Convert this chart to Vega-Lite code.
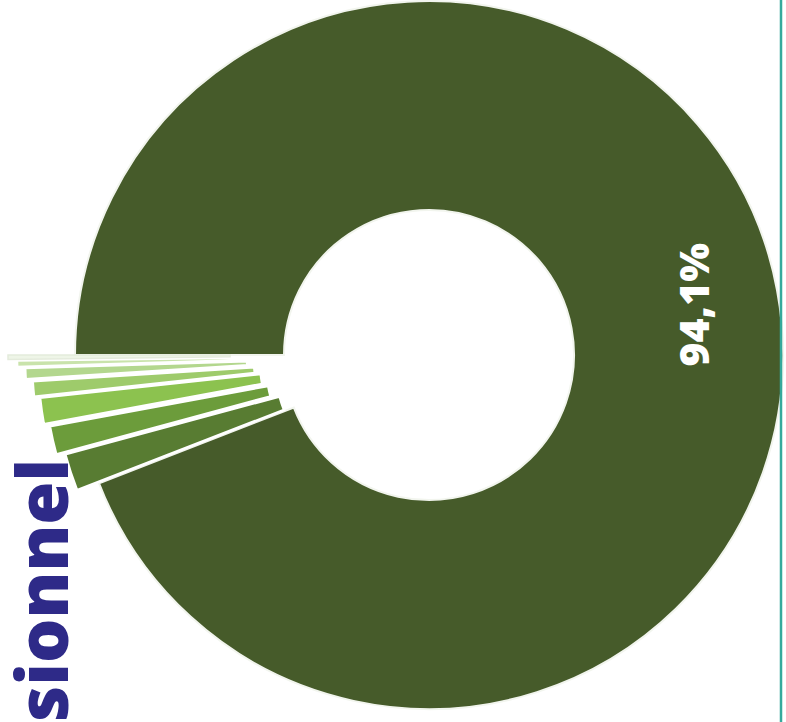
{
  "$schema": "https://vega.github.io/schema/vega-lite/v6.json",
  "width": 710,
  "height": 710,
  "padding": {"left": 74, "top": 0, "right": 2, "bottom": 12},
  "autosize": {"type": "none"},
  "background": "white",
  "config": {"view": {"stroke": null}},
  "title": {"text": "sionnel", "orient": "left", "anchor": "start", "frame": "group", "font": "Open Sans", "fontWeight": 800, "fontSize": 70, "color": "#2e2a88", "baseline": "alphabetic", "offset": -133, "dx": -12},
  "data": {"values": [
    {"cat": "C1", "value": 94.1, "label": "94,1%"},
    {"cat": "C2", "value": 1.7, "label": ""},
    {"cat": "C3", "value": 1.3, "label": ""},
    {"cat": "C4", "value": 1.2, "label": ""},
    {"cat": "C5", "value": 0.7, "label": ""},
    {"cat": "C6", "value": 0.5, "label": ""},
    {"cat": "C7", "value": 0.3, "label": ""},
    {"cat": "C8", "value": 0.2, "label": ""}
  ]},
  "transform": [{"stack": "value", "groupby": [], "as": ["v0", "v1"]}],
  "layer": [
    {
      "transform": [{"filter": "datum.cat == 'C1'"}],
      "mark": {"type": "arc", "innerRadius": 145, "outerRadius": 354, "stroke": "#f2f5ee", "strokeWidth": 2},
      "encoding": {
        "theta": {"field": "v0", "type": "quantitative", "stack": null, "scale": {"domain": [0, 100], "range": [4.71238898, 10.99557429]}},
        "theta2": {"field": "v1"},
        "color": {"field": "cat", "type": "nominal", "legend": null, "scale": {"domain": ["C1", "C2", "C3", "C4", "C5", "C6", "C7", "C8"], "range": ["#465b2a", "#587c32", "#6c9c3b", "#8cc24f", "#9ecb6b", "#b3d78e", "#c9e3ab", "#eef5e7"]}}
      }
    },
    {
      "transform": [{"filter": "datum.cat == 'C2'"}],
      "mark": {"type": "arc", "innerRadius": 132, "outerRadius": 354, "stroke": "#ffffff", "strokeWidth": 2.5, "xOffset": -22, "yOffset": 7},
      "encoding": {
        "theta": {"field": "v0", "type": "quantitative", "stack": null},
        "theta2": {"field": "v1"},
        "color": {"field": "cat", "type": "nominal", "legend": null}
      }
    },
    {
      "transform": [{"filter": "datum.cat == 'C3'"}],
      "mark": {"type": "arc", "innerRadius": 132, "outerRadius": 354, "stroke": "#ffffff", "strokeWidth": 2.5, "xOffset": -31, "yOffset": 7},
      "encoding": {
        "theta": {"field": "v0", "type": "quantitative", "stack": null},
        "theta2": {"field": "v1"},
        "color": {"field": "cat", "type": "nominal", "legend": null}
      }
    },
    {
      "transform": [{"filter": "datum.cat == 'C4'"}],
      "mark": {"type": "arc", "innerRadius": 132, "outerRadius": 354, "stroke": "#ffffff", "strokeWidth": 2.5, "xOffset": -37, "yOffset": 5},
      "encoding": {
        "theta": {"field": "v0", "type": "quantitative", "stack": null},
        "theta2": {"field": "v1"},
        "color": {"field": "cat", "type": "nominal", "legend": null}
      }
    },
    {
      "transform": [{"filter": "datum.cat == 'C5'"}],
      "mark": {"type": "arc", "innerRadius": 132, "outerRadius": 354, "stroke": "#ffffff", "strokeWidth": 2.5, "xOffset": -43, "yOffset": 4},
      "encoding": {
        "theta": {"field": "v0", "type": "quantitative", "stack": null},
        "theta2": {"field": "v1"},
        "color": {"field": "cat", "type": "nominal", "legend": null}
      }
    },
    {
      "transform": [{"filter": "datum.cat == 'C6'"}],
      "mark": {"type": "arc", "innerRadius": 132, "outerRadius": 354, "stroke": "#ffffff", "strokeWidth": 2.5, "xOffset": -50, "yOffset": 2},
      "encoding": {
        "theta": {"field": "v0", "type": "quantitative", "stack": null},
        "theta2": {"field": "v1"},
        "color": {"field": "cat", "type": "nominal", "legend": null}
      }
    },
    {
      "transform": [{"filter": "datum.cat == 'C7'"}],
      "mark": {"type": "arc", "innerRadius": 132, "outerRadius": 354, "stroke": "#ffffff", "strokeWidth": 2.5, "xOffset": -58, "yOffset": 1},
      "encoding": {
        "theta": {"field": "v0", "type": "quantitative", "stack": null},
        "theta2": {"field": "v1"},
        "color": {"field": "cat", "type": "nominal", "legend": null}
      }
    },
    {
      "transform": [{"filter": "datum.cat == 'C8'"}],
      "mark": {"type": "arc", "innerRadius": 132, "outerRadius": 354, "stroke": "#e4ebdc", "strokeWidth": 1.5, "xOffset": -67, "yOffset": 0},
      "encoding": {
        "theta": {"field": "v0", "type": "quantitative", "stack": null},
        "theta2": {"field": "v1"},
        "color": {"field": "cat", "type": "nominal", "legend": null}
      }
    },
    {
      "mark": {"type": "text", "radius": 273, "angle": 270, "fontSize": 41, "font": "Open Sans", "fontWeight": 800, "color": "white", "align": "center", "baseline": "middle"},
      "encoding": {
        "theta": {"field": "value", "type": "quantitative", "stack": true},
        "order": {"field": "v0", "type": "quantitative", "sort": "ascending"},
        "text": {"field": "label"}
      }
    },
    {
      "data": {"values": [{"edge": "right"}]},
      "mark": {"type": "rule", "color": "#35a99c", "strokeWidth": 2.5, "xOffset": -3, "y2Offset": 12},
      "encoding": {
        "x": {"value": "width"},
        "y": {"value": 0},
        "y2": {"value": "height"}
      }
    }
  ]
}
